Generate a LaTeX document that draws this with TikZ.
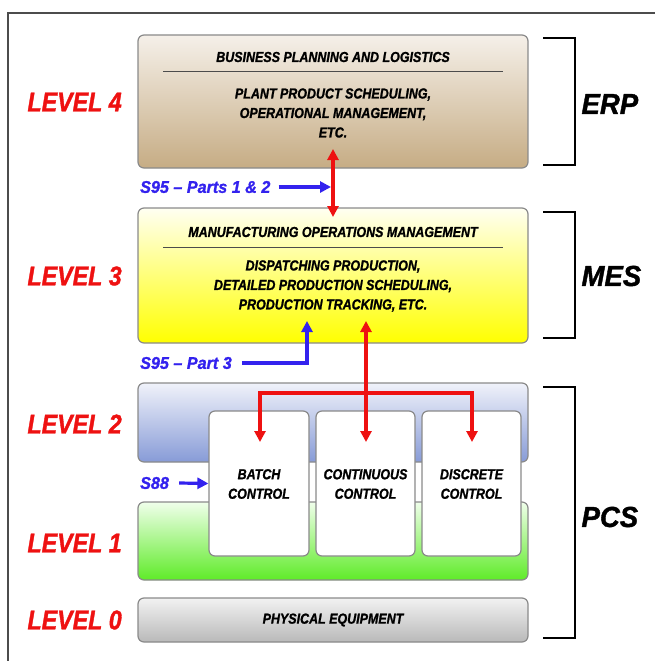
\documentclass[tikz,border=0pt]{standalone}
\usepackage{fontspec}
\newfontfamily\cf{Liberation Sans}[FakeStretch=0.86, FakeBold=1.3]
\newfontfamily\cw{Liberation Sans}[FakeStretch=0.95, FakeBold=1.3]
\usetikzlibrary{arrows.meta}
\definecolor{lvred}{HTML}{EE1111}
\definecolor{stdblue}{HTML}{3322EE}
\definecolor{boxedge}{HTML}{8A8A8A}
\tikzset{
  layer/.style={draw=boxedge, line width=1.2pt, rounded corners=6pt, minimum width=390pt, inner sep=0pt},
  ctrl/.style={draw=boxedge, line width=1.2pt, rounded corners=6pt, fill=white, minimum height=145pt, inner sep=0pt},
  lvl/.style={text=lvred, font=\cf\bfseries\itshape\fontsize{27}{27}\selectfont, anchor=west},
  sys/.style={font=\cw\bfseries\itshape\fontsize{29}{29}\selectfont, anchor=west},
  body/.style={font=\cf\bfseries\itshape\fontsize{14.5}{19.5}\selectfont, align=center},
  std/.style={text=stdblue, font=\cw\bfseries\itshape\fontsize{17}{17}\selectfont, anchor=west, inner sep=0pt},
  tip/.style={},
  redarr/.style={draw=lvred, line width=3.2pt, -{Triangle[length=11pt,width=11pt]}},
  bluearr/.style={draw=stdblue, line width=3.2pt, -{Triangle[length=11pt,width=11pt]}},
  brk/.style={draw=black, line width=2.8pt},
  sep/.style={draw=black!70, line width=0.9pt}
}
\begin{document}
\begin{tikzpicture}[x=1pt,y=-1pt]
\useasboundingbox (0,0) rectangle (655,661);
% frame
\draw[draw=black!70, line width=1.5pt] (8,661) -- (8,13) -- (655,13);

% layers
\node[layer, minimum height=133pt, top color={rgb,255:red,245;green,240;blue,233}, bottom color={rgb,255:red,198;green,172;blue,132}] (L4) at (333,101.5) {};
\node[layer, minimum height=135pt, top color=white!95!yellow, bottom color={rgb,255:red,255;green,255;blue,0}] (L3) at (333,275.5) {};
\node[layer, minimum height=79pt, top color={rgb,255:red,240;green,242;blue,250}, bottom color={rgb,255:red,135;green,155;blue,215}] (L2) at (333,422.5) {};
\node[layer, minimum height=78pt, top color={rgb,255:red,240;green,255;blue,235}, bottom color={rgb,255:red,95;green,235;blue,40}] (L1) at (333,541) {};
\node[layer, minimum height=44pt, top color={rgb,255:red,242;green,242;blue,242}, bottom color={rgb,255:red,185;green,185;blue,185}] (L0) at (333,620) {};

% texts in layers
\node[body] (t4) at (333,57) {BUSINESS PLANNING AND LOGISTICS};
\coordinate (s4a) at (163,71); \coordinate (s4b) at (503,71);
\draw[sep] (s4a) -- (s4b);
\node[body] (b4) at (333,113) {PLANT PRODUCT SCHEDULING,\\OPERATIONAL MANAGEMENT,\\ETC.};

\node[body] (t3) at (333,232) {MANUFACTURING OPERATIONS MANAGEMENT};
\coordinate (s3a) at (163,247); \coordinate (s3b) at (503,247);
\draw[sep] (s3a) -- (s3b);
\node[body] (b3) at (333,286) {DISPATCHING PRODUCTION,\\DETAILED PRODUCTION SCHEDULING,\\PRODUCTION TRACKING, ETC.};

\node[body] (t0) at (333,620) {PHYSICAL EQUIPMENT};

% control boxes
\node[ctrl, minimum width=100pt] (batch) at (259,483.5) {};
\node[ctrl, minimum width=99pt] (cont) at (365.5,483.5) {};
\node[ctrl, minimum width=99pt] (disc) at (471.5,483.5) {};
\node[body] at (259,484) {BATCH\\CONTROL};
\node[body] at (365.5,484) {CONTINUOUS\\CONTROL};
\node[body] at (471.5,484) {DISCRETE\\CONTROL};

% level labels
\node[lvl] (lv4) at (24,102) {LEVEL 4};
\node[lvl] (lv3) at (24,276) {LEVEL 3};
\node[lvl] (lv2) at (24,424) {LEVEL 2};
\node[lvl] (lv1) at (24,543) {LEVEL 1};
\node[lvl] (lv0) at (24,620) {LEVEL 0};

% brackets and system names
\draw[brk] (543,38) -- (575,38) -- (575,165) -- (543,165);
\draw[brk] (543,212) -- (575,212) -- (575,338) -- (543,338);
\draw[brk] (543,387) -- (575,387) -- (575,638) -- (543,638);
\node[sys] (erp) at (578,104) {ERP};
\node[sys] (mes) at (578,276) {MES};
\node[sys] (pcs) at (578,517) {PCS};

% red arrows
\coordinate (r4) at (333,149);
\coordinate (r3) at (333,217);
\draw[redarr, {Triangle[length=11pt,width=11pt]}-{Triangle[length=11pt,width=11pt]}] (r4) -- (r3);
\coordinate (rt) at (366,321);
\coordinate (rb) at (366,442);
\draw[redarr, {Triangle[length=11pt,width=11pt]}-{Triangle[length=11pt,width=11pt]}] (rt) -- (rb);
\coordinate (bj) at (366,393);
\coordinate (ba) at (260,442);
\coordinate (da) at (472,442);
\draw[redarr] (bj) -| (ba);
\draw[redarr] (bj) -| (da);

% standards labels
\node[std] (s95a) at (140,187) {S95 – Parts 1 \& 2};
\coordinate (s95at) at (331,187);
\draw[bluearr] ([xshift=8pt]s95a.east) -- (s95at);
\node[std] (s95b) at (140,363) {S95 – Part 3};
\coordinate (s95bt) at (307,321);
\draw[bluearr] ([xshift=10pt]s95b.east) -| (s95bt);
\node[std] (s88) at (140,483) {S88};
\draw[bluearr] ([xshift=10pt]s88.east) -- (batch.west);
\end{tikzpicture}
\end{document}
